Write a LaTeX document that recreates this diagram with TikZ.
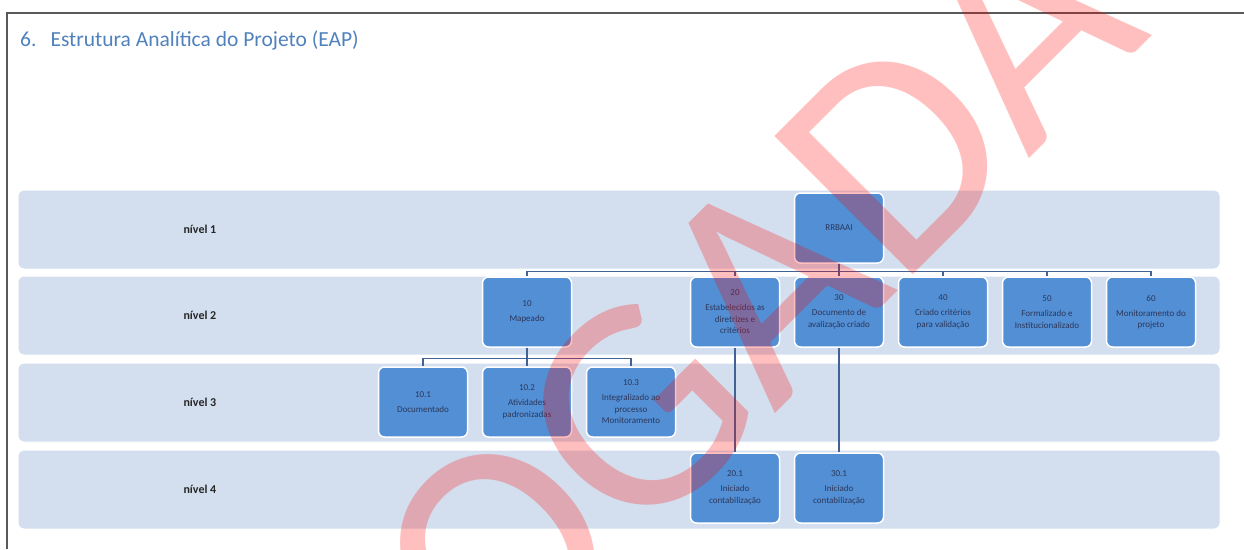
\documentclass[tikz,border=0pt]{standalone}
\usepackage{fontspec}
\setmainfont{Carlito}
\usepackage{xcolor}
\usepackage{tikz}
\usetikzlibrary{positioning}

\definecolor{bandblue}{RGB}{211,223,238}
\definecolor{boxblue}{RGB}{82,143,213}
\definecolor{linkblue}{RGB}{66,98,150}
\definecolor{titleblue}{RGB}{79,129,189}
\definecolor{boxtext}{RGB}{45,55,90}

\begin{document}
\begin{tikzpicture}[x=1pt, y=-1pt,
    band/.style={fill=bandblue, draw=white, line width=1pt, rounded corners=6pt},
    wbs/.style={fill=boxblue, draw=white, line width=1.5pt, rounded corners=6pt,
      minimum width=89pt, minimum height=70pt, align=center, text=boxtext,
      font=\fontsize{9}{11.5}\selectfont, inner sep=2pt},
    link/.style={draw=linkblue, line width=1.2pt}]
    \useasboundingbox (0,0) rectangle (1244,549);

    % Page frame and heading
    \draw[line width=1.2pt, black!65] (7,549) -- (7,13) -- (1244,13);
    \node[anchor=base west, inner sep=0, text=titleblue, font=\fontsize{21.5}{25}\selectfont] (title) at (20,46)
      {6.\hspace{14pt}Estrutura Analítica do Projeto (EAP)};

    % Level bands with their labels
    \foreach \top/\bot/\n in {190/269/1, 276/355/2, 363/442/3, 450/529/4} {
      \draw[band] (18,\top) rectangle (1220,\bot);
      \node[anchor=west, text=black!85, font=\fontsize{12}{14}\selectfont\bfseries] (nivel\n) at (180,{(\top+\bot)/2}) {nível \n};
    }

    % Level 1
    \node[wbs] (root) at (839,228) {RRBAAI};

    % Level 2
    \node[wbs] (b10) at (527,312) {10\\[3.5pt]Mapeado};
    \node[wbs] (b20) at (735,312) {20\\[3.5pt]Estabelecidos as\\diretrizes e\\critérios};
    \node[wbs] (b30) at (839,312) {30\\[3.5pt]Documento de\\avalização criado};
    \node[wbs] (b40) at (943,312) {40\\[3.5pt]Criado critérios\\para validação};
    \node[wbs] (b50) at (1047,312) {50\\[3.5pt]Formalizado e\\Institucionalizado};
    \node[wbs] (b60) at (1151,312) {60\\[3.5pt]Monitoramento do\\projeto};

    % Level 3
    \node[wbs] (b101) at (423,402) {10.1\\[3.5pt]Documentado};
    \node[wbs] (b102) at (527,402) {10.2\\[3.5pt]Atividades\\padronizadas};
    \node[wbs] (b103) at (631,402) {10.3\\[3.5pt]Integralizado ao\\processo\\Monitoramento};

    % Level 4
    \node[wbs] (b201) at (735,488) {20.1\\[3.5pt]Iniciado\\contabilização};
    \node[wbs] (b301) at (839,488) {30.1\\[3.5pt]Iniciado\\contabilização};

    % Connectors
    \foreach \b in {b10,b20,b30,b40,b50,b60}
      \draw[link] (root.south) -- ++(0,8) -| (\b.north);
    \foreach \b in {b101,b102,b103}
      \draw[link] (b10.south) -- ++(0,11) -| (\b.north);
    \draw[link] (b20.south) -- (b201.north);
    \draw[link] (b30.south) -- (b301.north);

    % Stamp across the page
    \begin{scope}
      \clip (0,0) rectangle (1244,549);
      \node[anchor=base west, inner sep=0, rotate=45, text=red, text opacity=0.25,
        font=\fontsize{305}{305}\selectfont] (stamp) at (495,693) {OGADA};
    \end{scope}
\end{tikzpicture}
\end{document}
